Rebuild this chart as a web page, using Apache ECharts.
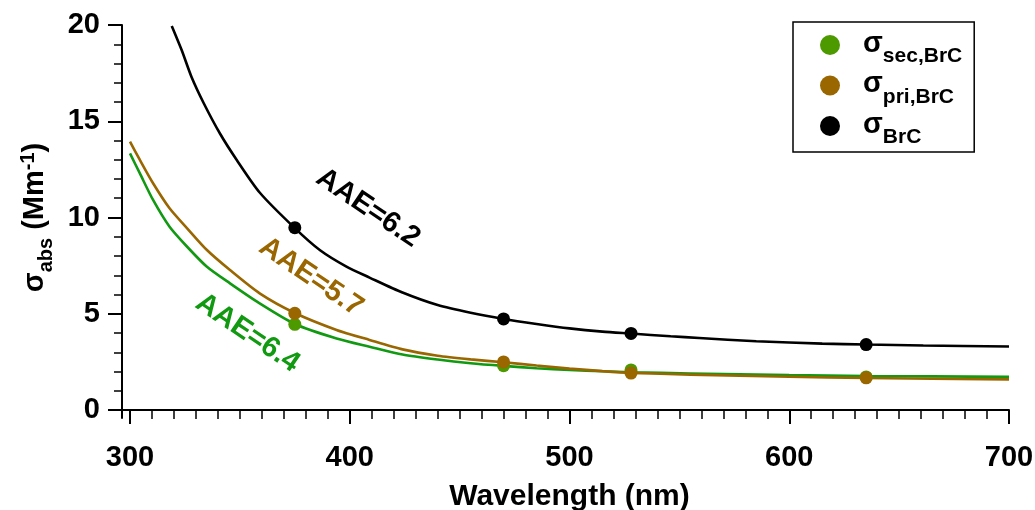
<!DOCTYPE html>
<html><head><meta charset="utf-8">
<script src="https://cdn.jsdelivr.net/npm/echarts@6/dist/echarts.min.js"></script>
<style>html,body{margin:0;padding:0;background:#fff}#c{width:1035px;height:510px}</style>
</head><body><div id="c"></div>
<script>
// ---- data ----
const blackCurveX = [319, 323.5, 328, 333.5, 341, 348.5, 359, 375, 386.5, 398.5, 409, 424, 440, 455, 470, 485, 500, 515, 528, 546, 559, 585, 615, 635, 661, 700];
const blackCurveY = [19.95, 18.7, 17.3, 15.95, 14.35, 13.0, 11.3, 9.45, 8.3, 7.45, 6.88, 6.1, 5.45, 5.05, 4.73, 4.47, 4.24, 4.07, 3.97, 3.83, 3.74, 3.57, 3.45, 3.40, 3.35, 3.30];
const priCurveX = [300, 304.5, 310.5, 318, 326, 335, 345.5, 359, 375, 394, 409, 424, 440, 455, 470, 485, 500, 515, 528, 555, 600, 635, 700];
const priCurveY = [13.94, 12.99, 11.78, 10.48, 9.44, 8.31, 7.27, 6.06, 5.04, 4.16, 3.64, 3.15, 2.82, 2.63, 2.48, 2.31, 2.15, 2.02, 1.93, 1.84, 1.73, 1.66, 1.59];
const secCurveX = [300, 304.5, 310.5, 318, 326, 335, 345.5, 359, 375, 394, 409, 424, 440, 455, 470, 485, 500, 515, 528, 555, 600, 635, 700];
const secCurveY = [13.33, 12.29, 10.91, 9.52, 8.48, 7.44, 6.58, 5.54, 4.47, 3.72, 3.29, 2.88, 2.62, 2.43, 2.29, 2.17, 2.08, 2.01, 1.96, 1.90, 1.81, 1.77, 1.72];
const markerX = [375, 470, 528, 635];
const secY = [4.45, 2.30, 2.08, 1.72];
const priY = [5.02, 2.50, 1.92, 1.67];
const brcY = [9.47, 4.73, 3.98, 3.40];
const seriesSubs = ['sec,BrC', 'pri,BrC', 'BrC'];
const aaeTexts = ['AAE=6.4', 'AAE=5.7', 'AAE=6.2'];

// ---- styling ----
const FONT = '"Liberation Sans", Arial, sans-serif';
const GREEN_LINE = '#119a11', GREEN_MK = '#4d9900', BROWN = '#996600', BLACK = '#000000';
const zip = (xs, ys) => xs.map((x, i) => [x, ys[i]]);

function curve(name, xs, ys, color) {
  return { type: 'line', name, xAxisIndex: 0, yAxisIndex: 0, data: zip(xs, ys),
    showSymbol: false, symbol: 'none', smooth: 0.25,
    lineStyle: { color, width: 2.6 }, silent: true, clip: true, z: 2 };
}
function markers(name, ys, color, size) {
  return { type: 'scatter', name, xAxisIndex: 0, yAxisIndex: 0, data: zip(markerX, ys),
    symbol: 'circle', symbolSize: size, itemStyle: { color, opacity: 1 }, silent: true, z: 3 };
}
function annot(coord, text, color) {
  return { symbol: 'circle', symbolSize: 0, silent: true,
    data: [{ coord, label: { show: true, position: 'inside', formatter: text, rotate: -34,
      fontSize: 29, fontWeight: 'bold', fontFamily: FONT, color } }] };
}

const secLine = curve('secCurve', secCurveX, secCurveY, GREEN_LINE);
secLine.markPoint = annot([353.5, 4.0], aaeTexts[0], GREEN_LINE);
const priLine = curve('priCurve', priCurveX, priCurveY, BROWN);
priLine.markPoint = annot([382.4, 6.91], aaeTexts[1], BROWN);
const brcLine = curve('brcCurve', blackCurveX, blackCurveY, BLACK);
brcLine.markPoint = annot([408.3, 10.49], aaeTexts[2], BLACK);

const labelStyle = { fontSize: 29, fontWeight: 'bold', fontFamily: FONT, color: '#000' };
const mainTok = { fontSize: 29, fontWeight: 'bold', fontFamily: FONT, color: '#000', lineHeight: 29, verticalAlign: 'top' };
const subTok = { fontSize: 20, fontWeight: 'bold', fontFamily: FONT, color: '#000', lineHeight: 20, verticalAlign: 'top' };

const option = {
  backgroundColor: '#fff',
  animation: false,
  grid: [
    { left: 130, right: 26, top: 25, bottom: 100, outerBoundsMode: 'none', containLabel: false },
    { left: 122, right: 26, top: 25, bottom: 92, outerBoundsMode: 'none', containLabel: false }
  ],
  xAxis: [
    { gridIndex: 0, type: 'value', min: 300, max: 700, interval: 100, offset: 8,
      axisLine: { show: false },
      axisTick: { show: true, length: 14, lineStyle: { color: '#000', width: 2 } },
      minorTick: { show: true, splitNumber: 10, length: 9, lineStyle: { color: '#000', width: 1.5 } },
      axisLabel: Object.assign({ margin: 25 }, labelStyle),
      splitLine: { show: false }, minorSplitLine: { show: false },
      name: 'Wavelength (nm)', nameLocation: 'middle', nameGap: 64,
      nameTextStyle: { fontSize: 30, fontWeight: 'bold', fontFamily: FONT, color: '#000' } },
    { gridIndex: 1, type: 'value', min: 300 - 8 / 2.1975, max: 700,
      axisLine: { show: true, lineStyle: { color: '#000', width: 2 } },
      axisTick: { show: false }, axisLabel: { show: false }, splitLine: { show: false } }
  ],
  yAxis: [
    { gridIndex: 0, type: 'value', min: 0, max: 20, interval: 5, offset: 8,
      axisLine: { show: false },
      axisTick: { show: true, length: 14, lineStyle: { color: '#000', width: 2 } },
      minorTick: { show: true, splitNumber: 5, length: 8, lineStyle: { color: '#000', width: 1.5 } },
      axisLabel: Object.assign({ margin: 22 }, labelStyle),
      splitLine: { show: false }, minorSplitLine: { show: false },
      name: '{s|σ}{b|abs}{m| (Mm}{p|-1}{m|)}', nameLocation: 'middle', nameGap: 75, nameRotate: 90,
      nameTextStyle: { rich: {
        s: Object.assign({}, mainTok, { padding: [6, 0, 0, 0] }),
        m: Object.assign({}, mainTok, { padding: [6, 0, 0, 0] }),
        b: Object.assign({}, subTok, { padding: [22, 0, 0, 0] }),
        p: Object.assign({}, subTok, { padding: [4, 0, 0, 0] })
      } } },
    { gridIndex: 1, type: 'value', min: -8 / 19.25, max: 20,
      axisLine: { show: true, lineStyle: { color: '#000', width: 2 } },
      axisTick: { show: false }, axisLabel: { show: false }, splitLine: { show: false } }
  ],
  legend: {
    show: true, orient: 'vertical', left: 793, top: 22,
    padding: [1, 12, 4, 27], itemWidth: 20, itemHeight: 20, itemGap: -3.5,
    icon: 'circle', selectedMode: false,
    borderColor: '#000', borderWidth: 1.5, backgroundColor: '#fff',
    data: seriesSubs,
    formatter: name => '{s|σ}{b|' + name + '}',
    textStyle: { rich: {
      s: Object.assign({}, mainTok, { lineHeight: 35, padding: [6, 0, 0, 18] }),
      b: Object.assign({}, subTok, { fontSize: 21, lineHeight: 44, padding: [23, 0, 0, 0] })
    } }
  },
  series: [
    secLine, priLine, brcLine,
    markers(seriesSubs[0], secY, GREEN_MK, 13),
    markers(seriesSubs[1], priY, BROWN, 13),
    markers(seriesSubs[2], brcY, BLACK, 13)
  ]
};
const chart = echarts.init(document.getElementById('c'), null, { renderer: 'canvas' });
chart.setOption(option);
</script></body></html>
